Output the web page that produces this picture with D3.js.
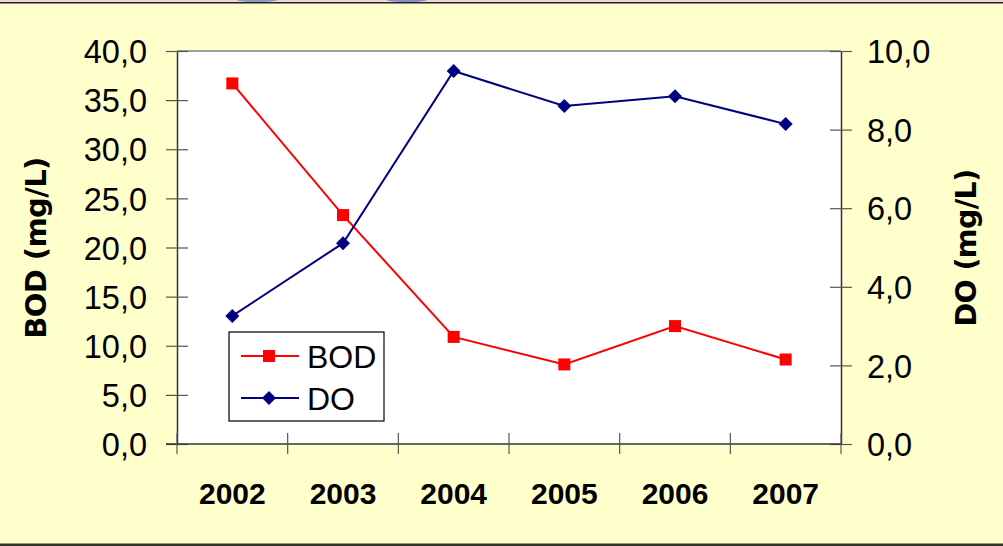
<!DOCTYPE html>
<html><head><meta charset="utf-8">
<script src="https://cdn.jsdelivr.net/npm/d3@7"></script>
<style>html,body{margin:0;padding:0;background:#FFFFCC;}svg{display:block;}</style>
</head><body>
<svg id="c" width="1003" height="546"></svg>
<script>
const years = ["2002","2003","2004","2005","2006","2007"];
const bod = [36.7, 23.3, 10.9, 8.1, 12.0, 8.6];
const dox = [3.26, 5.11, 9.49, 8.6, 8.85, 8.14];
const leftTicks = [0,5,10,15,20,25,30,35,40];
const rightTicks = [0,2,4,6,8,10];
const seriesNames = ["BOD","DO"];

const svg = d3.select("#c");
const L = 177, R = 841, T = 51, B = 444;
svg.append("rect").attr("x",0).attr("y",0).attr("width",1003).attr("height",546).attr("fill","#FFFFCC");
svg.append("rect").attr("x",0).attr("y",0).attr("width",1003).attr("height",2).attr("fill","#F4D6DC");
svg.append("rect").attr("x",0).attr("y",2).attr("width",1003).attr("height",1.5).attr("fill","#222");
svg.append("ellipse").attr("cx",257).attr("cy",0).attr("rx",20).attr("ry",2).attr("fill","#5A7FB8").attr("opacity",0.7);
svg.append("ellipse").attr("cx",407).attr("cy",0).attr("rx",20).attr("ry",2).attr("fill","#5A6FB8").attr("opacity",0.7);
svg.append("rect").attr("x",0).attr("y",543.5).attr("width",1003).attr("height",3).attr("fill","#333328");

const x = d3.scaleBand().domain(years).range([L,R]);
const yL = d3.scaleLinear().domain([0,40]).range([B,T]);
const yR = d3.scaleLinear().domain([0,10]).range([B,T]);
const fmt = d => d.toFixed(1).replace(".", ",");
const sans = "Liberation Sans, Arial, sans-serif";

// plot area
svg.append("rect").attr("x",L).attr("y",T).attr("width",R-L).attr("height",B-T).attr("fill","#fff");
svg.append("line").attr("x1",L).attr("x2",R).attr("y1",T).attr("y2",T).attr("stroke","#808080").attr("stroke-width",1.5);

// left axis
const gl = svg.append("g").attr("transform",`translate(${L},0)`)
  .call(d3.axisLeft(yL).tickValues(leftTicks).tickFormat(fmt).tickSizeInner(11).tickSizeOuter(0));
gl.selectAll(".tick line").attr("x2",11).attr("x1",-11);
gl.select(".domain").attr("stroke","#333").attr("stroke-width",1.5);
gl.selectAll(".tick line").attr("stroke","#555").attr("stroke-width",1.2);
gl.selectAll("text").attr("font-family",sans).attr("font-size",32.5).attr("fill","#000").attr("dy","0.36em").attr("x",-30);

// right axis
const gr = svg.append("g").attr("transform",`translate(${R},0)`)
  .call(d3.axisRight(yR).tickValues(rightTicks).tickFormat(fmt).tickSizeInner(11).tickSizeOuter(0));
gr.selectAll(".tick line").attr("x1",-11).attr("x2",11);
gr.select(".domain").attr("stroke","#333").attr("stroke-width",1.5);
gr.selectAll(".tick line").attr("stroke","#555").attr("stroke-width",1.2);
gr.selectAll("text").attr("font-family",sans).attr("font-size",32.5).attr("fill","#000").attr("dy","0.36em").attr("x",26);

// bottom axis
const gb = svg.append("g").attr("transform",`translate(0,${B})`)
  .call(d3.axisBottom(x).tickSize(0).tickPadding(0));
gb.select(".domain").remove();
svg.append("line").attr("x1",166).attr("x2",R).attr("y1",B).attr("y2",B).attr("stroke","#333").attr("stroke-width",1.5);
const edges = years.map(y => x(y)).concat([R]);
svg.selectAll(".xt").data(edges).enter().append("line")
  .attr("x1",d=>d).attr("x2",d=>d).attr("y1",B-11).attr("y2",B+10).attr("stroke","#555").attr("stroke-width",1.2);
gb.selectAll("text").attr("font-family",sans).attr("font-weight","bold").attr("font-size",30).attr("fill","#000")
  .attr("y",60).attr("dy",0);

// axis titles
svg.append("text").attr("transform",`translate(46,248) rotate(-90)`).attr("text-anchor","middle")
  .attr("font-family","DejaVu Sans, sans-serif").attr("font-weight","bold").attr("font-size",29).attr("letter-spacing",-0.6).text("BOD (mg/L)");
svg.append("text").attr("transform",`translate(976,248) rotate(-90)`).attr("text-anchor","middle")
  .attr("font-family","DejaVu Sans, sans-serif").attr("font-weight","bold").attr("font-size",28.5).attr("letter-spacing",-0.6).text("DO (mg/L)");

const cx = d => x(d) + x.bandwidth()/2;
// BOD
svg.append("path").datum(bod).attr("fill","none").attr("stroke","#FF0000").attr("stroke-width",2)
  .attr("d", d3.line().x((d,i)=>cx(years[i])).y(d=>yL(d)));
svg.selectAll(".bm").data(bod).enter().append("rect")
  .attr("x",(d,i)=>cx(years[i])-6).attr("y",d=>yL(d)-6).attr("width",12).attr("height",12).attr("fill","#FF0000");
// DO
svg.append("path").datum(dox).attr("fill","none").attr("stroke","#000080").attr("stroke-width",2)
  .attr("d", d3.line().x((d,i)=>cx(years[i])).y(d=>yR(d)));
const dsym = d3.symbol().type(d3.symbolSquare).size(98);
svg.selectAll(".dm").data(dox).enter().append("path")
  .attr("d", dsym).attr("transform",(d,i)=>`translate(${cx(years[i])},${yR(d)}) rotate(45)`).attr("fill","#000080");

// legend
const lg = svg.append("g");
lg.append("rect").attr("x",229).attr("y",332).attr("width",155).attr("height",89).attr("fill","#fff").attr("stroke","#000").attr("stroke-width",1.2);
const rows = [{n:seriesNames[0],c:"#FF0000",y:356},{n:seriesNames[1],c:"#000080",y:398}];
rows.forEach((r,i)=>{
  lg.append("line").attr("x1",241).attr("x2",299).attr("y1",r.y).attr("y2",r.y).attr("stroke",r.c).attr("stroke-width",2);
  if(i===0) lg.append("rect").attr("x",263).attr("y",r.y-6).attr("width",12).attr("height",12).attr("fill",r.c);
  else lg.append("path").attr("d",dsym).attr("transform",`translate(269,${r.y}) rotate(45)`).attr("fill",r.c);
  lg.append("text").attr("x",307).attr("y",r.y).attr("dy","0.36em").attr("font-family",sans)
    .attr("font-size",32).text(r.n);
});
</script>
</body></html>
